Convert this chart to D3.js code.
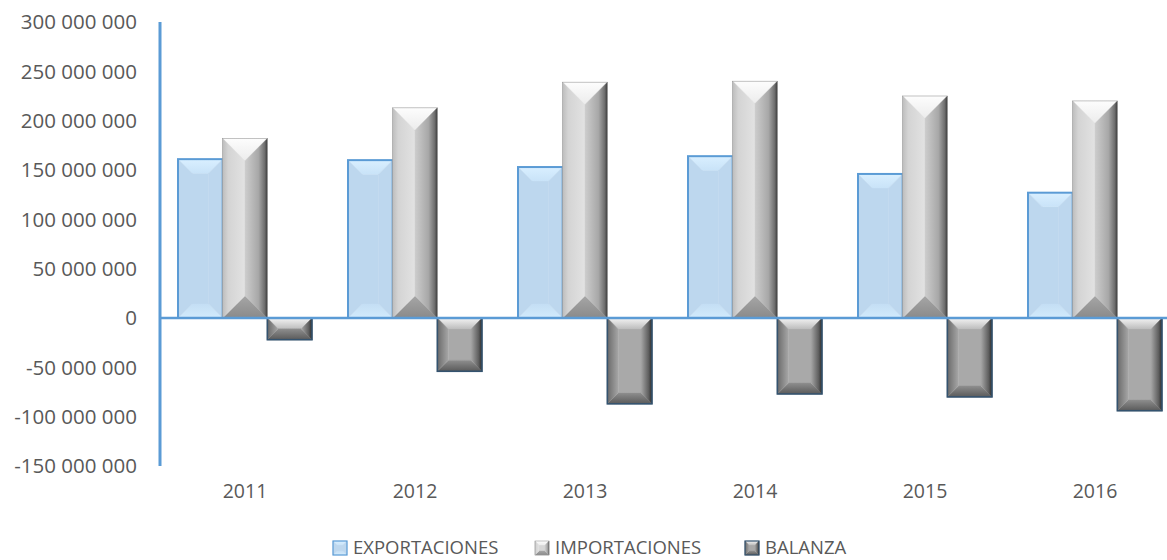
<!DOCTYPE html>
<html>
<head>
<meta charset="utf-8">
<script src="https://cdn.jsdelivr.net/npm/d3@7"></script>
<style>
  html, body { margin: 0; padding: 0; background: #fff; }
  svg { display: block; font-family: "Open Sans", sans-serif; }
</style>
</head>
<body>
<div id="chart"></div>
<script>
// Balanza comercial 2011-2016
var years = ["2011", "2012", "2013", "2014", "2015", "2016"];
var seriesNames = ["EXPORTACIONES", "IMPORTACIONES", "BALANZA"];
var exportaciones = [161e6, 160e6, 153e6, 164e6, 146e6, 127e6];
var importaciones = [182e6, 213e6, 239e6, 240e6, 225e6, 220e6];
var balanza = [-22e6, -54e6, -87e6, -77e6, -80e6, -94e6];
var yTicks = [300e6, 250e6, 200e6, 150e6, 100e6, 50e6, 0, -50e6, -100e6, -150e6];

var W = 1167, H = 560;
var axisBlue = "#5b9bd5";
var textCol = "#595959";

var svg = d3.select("#chart").append("svg")
  .attr("width", W).attr("height", H);
var defs = svg.append("defs");

var x = d3.scaleBand().domain(years).range([160, 1180]);
var xSub = d3.scaleBand().domain(seriesNames).range([18, 152]);
var y = d3.scaleLinear().domain([-150e6, 300e6]).range([466, 22]);

var loc = d3.formatLocale({ decimal: ",", thousands: " ", grouping: [3], currency: ["", ""], minus: "-" });
var fmt = loc.format(",d");

// gradients for bevel facets
function grad(id, x2, y2, stops) {
  var g = defs.append("linearGradient").attr("id", id)
    .attr("x1", 0).attr("y1", 0).attr("x2", x2).attr("y2", y2);
  stops.forEach(function (s) {
    g.append("stop").attr("offset", s[0]).attr("stop-color", s[1]);
  });
}
grad("imTop", 0, 1, [[0, "#fdfdfd"], [1, "#ececec"]]);
grad("imLeft", 1, 0, [[0, "#bdbdbd"], [0.25, "#d4d4d4"], [1, "#e2e2e2"]]);
grad("imRight", 1, 0, [[0, "#cdcdcd"], [0.6, "#a8a8a8"], [0.88, "#6e6e6e"], [1, "#3c3c3c"]]);
grad("imBottom", 0, 1, [[0, "#a6a6a6"], [1, "#8a8a8a"]]);
grad("baTop", 0, 1, [[0, "#f4f4f4"], [1, "#bdbdbd"]]);
grad("baLeft", 1, 0, [[0, "#6a6a6a"], [1, "#a6a6a6"]]);
grad("baRight", 1, 0, [[0, "#a6a6a6"], [0.7, "#5e5e5e"], [1, "#2b2b2b"]]);
grad("baBottom", 0, 1, [[0, "#8e8e8e"], [1, "#5a5a5a"]]);
grad("exTop", 0, 1, [[0, "#d9efff"], [1, "#c9e3f8"]]);
grad("exBottom", 0, 1, [[0, "#c4def4"], [1, "#d2ebfc"]]);

var styles = {
  EXPORTACIONES: { bevel: 14, face: "#bdd7ee", top: "url(#exTop)", bottom: "url(#exBottom)",
                   left: "#bdd7ee", right: "#bdd7ee", stroke: axisBlue, sw: 2 },
  IMPORTACIONES: { bevel: "half", face: "#d6d6d6", top: "url(#imTop)", bottom: "url(#imBottom)",
                   left: "url(#imLeft)", right: "url(#imRight)", stroke: "#9a9a9a", sw: 0.6 },
  BALANZA:       { bevel: 11, face: "#a9a9a9", top: "url(#baTop)", bottom: "url(#baBottom)",
                   left: "url(#baLeft)", right: "url(#baRight)", stroke: "#34536f", sw: 1.6 }
};

function facets(bx, by, bw, bh, st) {
  var d = st.bevel === "half" ? bw / 2 : st.bevel;
  d = Math.min(d, bw / 2, bh / 2);
  var x0 = bx, x1 = bx + bw, y0 = by, y1 = by + bh;
  return [
    { fill: st.face, pts: [[x0 + d, y0 + d], [x1 - d, y0 + d], [x1 - d, y1 - d], [x0 + d, y1 - d]] },
    { fill: st.top, pts: [[x0, y0], [x1, y0], [x1 - d, y0 + d], [x0 + d, y0 + d]] },
    { fill: st.bottom, pts: [[x0, y1], [x1, y1], [x1 - d, y1 - d], [x0 + d, y1 - d]] },
    { fill: st.left, pts: [[x0, y0], [x0 + d, y0 + d], [x0 + d, y1 - d], [x0, y1]] },
    { fill: st.right, pts: [[x1, y0], [x1 - d, y0 + d], [x1 - d, y1 - d], [x1, y1]] }
  ];
}

function drawBar(g, bx, by, bw, bh, st) {
  var bar = g.append("g");
  bar.selectAll("polygon").data(facets(bx, by, bw, bh, st)).join("polygon")
    .attr("points", function (f) { return f.pts.map(function (p) { return p.join(","); }).join(" "); })
    .attr("fill", function (f) { return f.fill; })
    .attr("stroke", function (f) { return f.fill; })
    .attr("stroke-width", 0.4);
  bar.append("rect")
    .attr("x", bx).attr("y", by).attr("width", bw).attr("height", bh)
    .attr("fill", "none").attr("stroke", st.stroke).attr("stroke-width", st.sw);
}

var rows = years.map(function (yr, i) {
  return { year: yr, values: [exportaciones[i], importaciones[i], balanza[i]] };
});

var barsG = svg.append("g").attr("class", "bars");
rows.forEach(function (r) {
  r.values.forEach(function (v, j) {
    var name = seriesNames[j];
    var bx = x(r.year) + xSub(name);
    var top = y(Math.max(0, v)), bot = y(Math.min(0, v));
    drawBar(barsG, bx, top, xSub.bandwidth(), bot - top, styles[name]);
  });
});

// zero line
svg.append("line")
  .attr("x1", 160).attr("x2", W).attr("y1", y(0)).attr("y2", y(0))
  .attr("stroke", axisBlue).attr("stroke-width", 2.5);

// y axis
svg.append("line")
  .attr("x1", 160).attr("x2", 160).attr("y1", y(300e6)).attr("y2", y(-150e6))
  .attr("stroke", axisBlue).attr("stroke-width", 3);

svg.append("g").selectAll("text").data(yTicks).join("text")
  .attr("x", 137).attr("y", function (d) { return y(d); })
  .attr("dy", "0.35em").attr("text-anchor", "end")
  .attr("fill", textCol).attr("font-size", 20.5)
  .text(function (d) { return fmt(d); });

// category labels
svg.append("g").selectAll("text").data(years).join("text")
  .attr("x", function (d) { return x(d) + x.bandwidth() / 2; })
  .attr("y", 491).attr("dy", "0.35em").attr("text-anchor", "middle")
  .attr("fill", textCol).attr("font-size", 19.5)
  .text(function (d) { return d; });

// legend
var legendX = [333, 535, 745];
var legend = svg.append("g").selectAll("g").data(seriesNames).join("g")
  .attr("transform", function (d, i) { return "translate(" + legendX[i] + ",0)"; });
legend.each(function (d) {
  var st = Object.assign({}, styles[d], { bevel: 4, sw: Math.min(styles[d].sw, 1.2) });
  drawBar(d3.select(this), 0, 541, 14, 14, st);
});
legend.append("text")
  .attr("x", 20).attr("y", 548).attr("dy", "0.35em")
  .attr("fill", textCol).attr("font-size", 18.5)
  .text(function (d) { return d; });
</script>
</body>
</html>
